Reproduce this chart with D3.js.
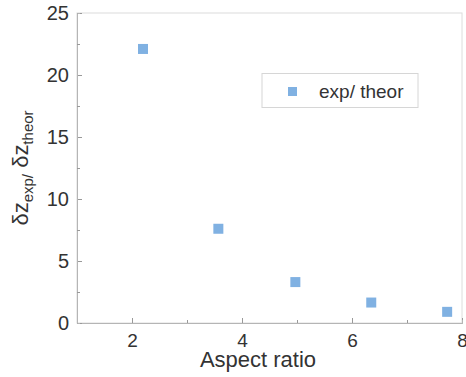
<!DOCTYPE html>
<html><head><meta charset="utf-8">
<script src="https://cdn.jsdelivr.net/npm/d3@7"></script>
<style>body{margin:0;background:#fff}svg{display:block}text{font-family:"Liberation Sans",Arial,sans-serif}</style>
</head><body>
<svg id="c" width="466" height="377"></svg>
<script>
const aspectRatio = [2.2, 3.57, 4.97, 6.35, 7.73];
const ratioExpTheor = [22.1, 7.6, 3.3, 1.65, 0.9];
const xTicks = [2, 4, 6, 8];
const xMinor = [3, 5, 7];
const yTicks = [0, 5, 10, 15, 20, 25];
const yMinor = [2.5, 7.5, 12.5, 17.5, 22.5];
const legendLabel = "exp/ theor";

const svg = d3.select("#c");
const L = 77, R = 462, T = 13, B = 323;
const x = d3.scaleLinear().domain([1, 8]).range([L, R]);
const y = d3.scaleLinear().domain([0, 25]).range([B, T]);
const axisCol = "#b5b5b5", textCol = "#333";

svg.append("rect").attr("x", L).attr("y", T).attr("width", R - L).attr("height", B - T)
  .attr("fill", "none").attr("stroke", "#dcdcdc").attr("stroke-width", 1);

const gx = svg.append("g").attr("transform", `translate(0,${B})`)
  .call(d3.axisBottom(x).tickValues(xTicks).tickSize(-5).tickPadding(11).tickFormat(d3.format("d")));
const gxm = svg.append("g").attr("transform", `translate(0,${B})`)
  .call(d3.axisBottom(x).tickValues(xMinor).tickSize(-3).tickFormat(""));
const gy = svg.append("g").attr("transform", `translate(${L},0)`)
  .call(d3.axisLeft(y).tickValues(yTicks).tickSize(-5).tickPadding(8).tickFormat(d3.format("d")));
const gym = svg.append("g").attr("transform", `translate(${L},0)`)
  .call(d3.axisLeft(y).tickValues(yMinor).tickSize(-3).tickFormat(""));
[gx, gxm, gy, gym].forEach(g => {
  g.selectAll(".domain").attr("stroke", axisCol);
  g.selectAll(".tick line").attr("stroke", "#999");
  g.selectAll("text").attr("fill", textCol).style("font-size", "20px");
});
gx.selectAll("text").attr("dy", "0.71em").style("font-size", "19px");

svg.append("text").attr("x", 258).attr("y", 367).attr("text-anchor", "middle")
  .style("font-size", "22px").attr("fill", textCol).text("Aspect ratio");

const yl = svg.append("text").attr("transform", "translate(28,168) rotate(-90)")
  .attr("text-anchor", "middle").style("font-size", "22px").attr("fill", textCol);
yl.append("tspan").text("δz");
yl.append("tspan").attr("dy", 5).style("font-size", "15px").text("exp/");
yl.append("tspan").attr("dy", -5).text(" δz");
yl.append("tspan").attr("dy", 5).style("font-size", "15px").text("theor");

const sz = 10;
svg.append("g").selectAll("rect").data(aspectRatio).join("rect")
  .attr("x", (d) => x(d) - sz / 2)
  .attr("y", (d, i) => y(ratioExpTheor[i]) - sz / 2)
  .attr("width", sz).attr("height", sz).attr("fill", "#80b1e2");

const lg = svg.append("g");
lg.append("rect").attr("x", 262).attr("y", 73.5).attr("width", 156).attr("height", 34)
  .attr("fill", "#fff").attr("stroke", "#d6d6d6");
lg.append("rect").attr("x", 288).attr("y", 87).attr("width", 9).attr("height", 9).attr("fill", "#80b1e2");
lg.append("text").attr("x", 319).attr("y", 98).style("font-size", "19px").attr("fill", textCol).text(legendLabel);
</script>
</body></html>
